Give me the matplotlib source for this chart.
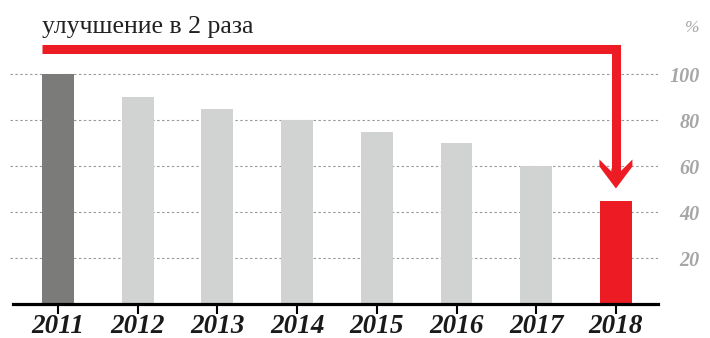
import matplotlib
matplotlib.use('Agg')
import matplotlib.pyplot as plt
import matplotlib.transforms as mtransforms
from matplotlib.patches import Polygon
from matplotlib.lines import Line2D
import numpy as np

years = ['2011', '2012', '2013', '2014', '2015', '2016', '2017', '2018']
values = [100, 90, 85, 80, 75, 70, 60, 45]
bar_colors = ['#7b7b79'] + ['#d1d3d2'] * 6 + ['#ed1c24']
y_ticks = [20, 40, 60, 80, 100]
title = 'улучшение в 2 раза'

RED = '#ed1c24'
serif = ['Liberation Serif', 'DejaVu Serif']

fig = plt.figure(figsize=(7.1, 3.38), dpi=100)
W, H = 710, 338
ax = fig.add_axes([10 / W, 34 / H, 648 / W, 253 / H])

x = np.arange(len(years))
ax.bar(x, values, width=0.4, color=bar_colors, zorder=2)
ax.set_xlim(-0.602, 7.528)
ax.set_ylim(0, 110)

for s in ['top', 'left', 'right']:
    ax.spines[s].set_visible(False)
ax.spines['bottom'].set_linewidth(2.3)
ax.spines['bottom'].set_zorder(3)
ax.spines['bottom'].set_bounds(-0.565, 7.528)

ax.set_xticks(x)
ax.set_xticklabels(years, fontfamily=serif, fontweight='bold',
                   fontstyle='italic', fontsize=19.5, color='#1a1a1a')
ax.tick_params(axis='x', direction='out', length=7.5, width=1.5,
               color='black', pad=0)

ax.yaxis.tick_right()
ax.set_yticks(y_ticks)
ax.set_yticklabels([str(v) for v in y_ticks], fontfamily=serif,
                   fontweight='bold', fontstyle='italic', fontsize=14.5,
                   color='#a6a6a6')
ax.tick_params(axis='y', length=0, pad=30)
for lab in ax.get_yticklabels():
    lab.set_horizontalalignment('right')
ax.yaxis.grid(True, linestyle=(0, (2.2, 2.2)), color='#9a9a9a',
              linewidth=0.8, zorder=1)

fig.text(700 / W, 1 - 28 / H, '%', ha='right', va='center',
         fontfamily=serif, fontstyle='italic', fontsize=12.5, color='#a6a6a6')
fig.text(42 / W, 1 - 33 / H, title, ha='left', va='baseline',
         fontfamily=serif, fontsize=18.5, color='#222222')

# red arrow: from the first bar's left edge, across the top, down onto the last bar
to_px = ax.transData.transform
x_start = to_px((x[0] - 0.2, 0))[0]
x_end, y_last = to_px((x[-1], values[-1]))
y_top = to_px((0, 111))[1]
tip = y_last + 12
ident = mtransforms.IdentityTransform()
fig.add_artist(Line2D([x_start, x_end, x_end], [y_top, y_top, tip + 17],
                      transform=ident, color=RED, linewidth=6.5,
                      solid_joinstyle='miter', solid_capstyle='butt'))
head = np.array([(-4.5, 17), (-16.5, 29), (-16.5, 22), (0, 0),
                 (16.5, 22), (16.5, 29), (4.5, 17), (4.5, 20), (-4.5, 20)])
head = head + np.array([x_end, tip])
fig.add_artist(Polygon(head, closed=True, transform=ident, color=RED,
                       linewidth=0))

fig.savefig('out.png', dpi=100)
